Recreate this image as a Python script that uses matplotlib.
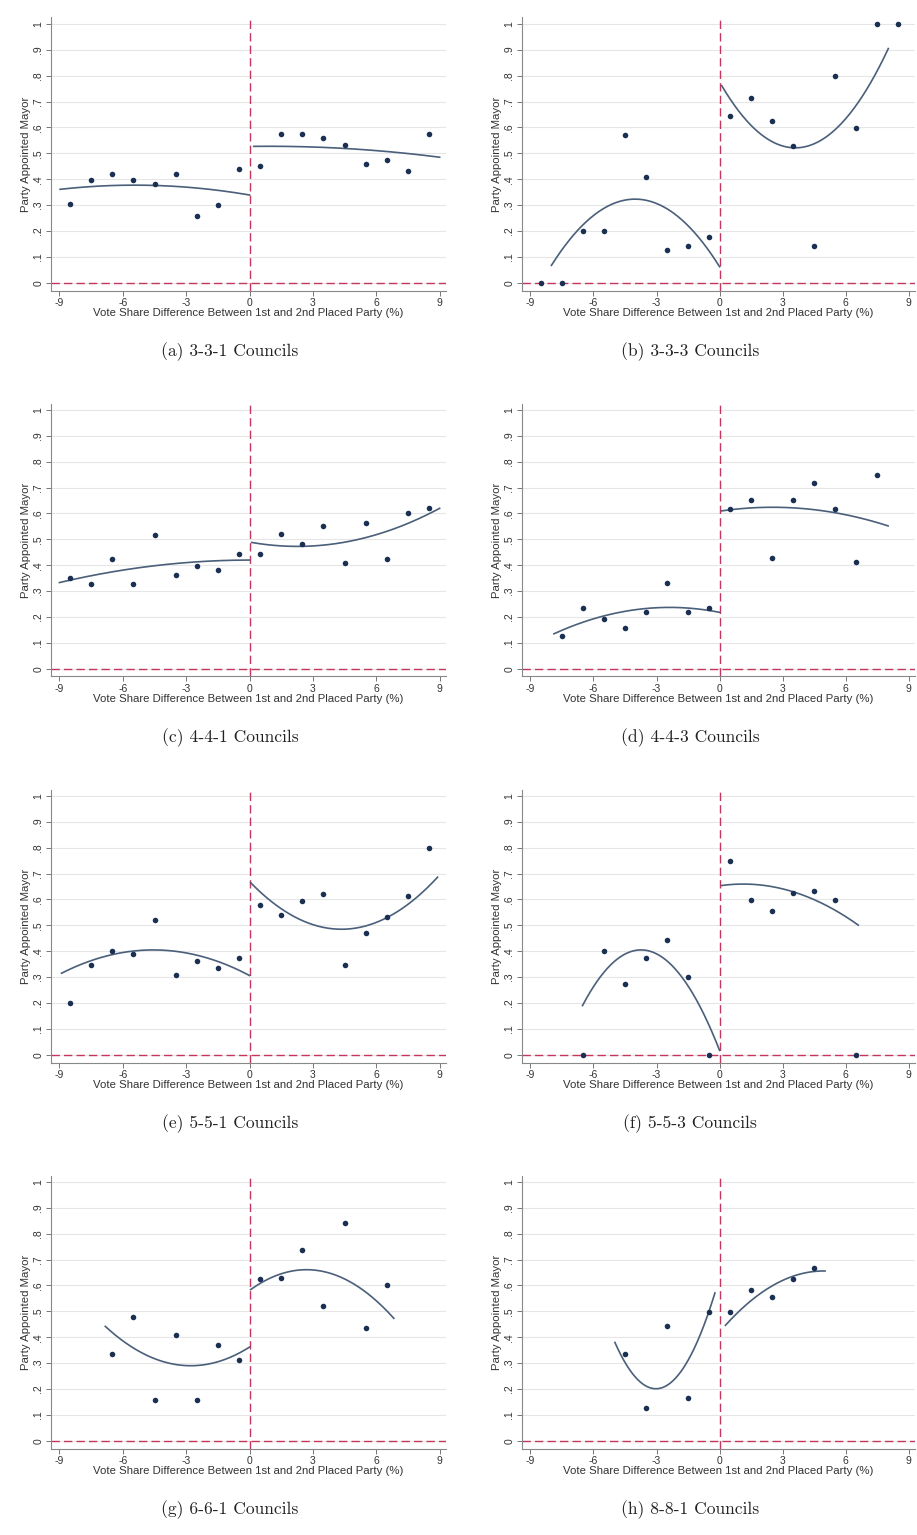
import numpy as np
import matplotlib.pyplot as plt

# bin midpoints (1 point-wide bins of the vote share margin)
x_all = [-8.5, -7.5, -6.5, -5.5, -4.5, -3.5, -2.5, -1.5, -0.5,
         0.5, 1.5, 2.5, 3.5, 4.5, 5.5, 6.5, 7.5, 8.5]

# (a) 3-3-1
a_x = x_all
a_y = [0.304, 0.397, 0.420, 0.396, 0.383, 0.420, 0.258, 0.300, 0.438,
       0.452, 0.573, 0.575, 0.559, 0.532, 0.460, 0.473, 0.433, 0.575]
a_left_x, a_left_y = [-8.97, -4.5, 0.0], [0.361, 0.376, 0.339]
a_right_x, a_right_y = [0.2, 4.5, 9.0], [0.527, 0.519, 0.485]

# (b) 3-3-3
b_x = x_all
b_y = [0.0, 0.0, 0.201, 0.201, 0.571, 0.410, 0.125, 0.142, 0.178,
       0.646, 0.714, 0.625, 0.530, 0.142, 0.800, 0.599, 1.0, 1.0]
b_left_x, b_left_y = [-8.0, -4.1, 0.0], [0.067, 0.323, 0.062]
b_right_x, b_right_y = [0.1, 3.9, 8.03], [0.762, 0.523, 0.905]

# (c) 4-4-1
c_x = x_all
c_y = [0.351, 0.326, 0.426, 0.326, 0.517, 0.362, 0.398, 0.380, 0.445,
       0.445, 0.521, 0.483, 0.552, 0.407, 0.564, 0.426, 0.600, 0.622]
c_left_x, c_left_y = [-9.0, -4.5, 0.0], [0.333, 0.398, 0.420]
c_right_x, c_right_y = [0.1, 4.5, 9.0], [0.488, 0.489, 0.620]

# (d) 4-4-3
d_x = [-7.5, -6.5, -5.5, -4.5, -3.5, -2.5, -1.5, -0.5,
       0.5, 1.5, 2.5, 3.5, 4.5, 5.5, 6.5, 7.5]
d_y = [0.125, 0.234, 0.192, 0.156, 0.219, 0.333, 0.219, 0.234,
       0.616, 0.651, 0.427, 0.651, 0.718, 0.619, 0.411, 0.749]
d_left_x, d_left_y = [-7.88, -2.5, 0.0], [0.135, 0.237, 0.218]
d_right_x, d_right_y = [0.1, 2.5, 8.02], [0.610, 0.624, 0.552]

# (e) 5-5-1
e_x = x_all
e_y = [0.201, 0.345, 0.399, 0.391, 0.520, 0.309, 0.362, 0.335, 0.372,
       0.579, 0.541, 0.595, 0.622, 0.347, 0.470, 0.532, 0.615, 0.799]
e_left_x, e_left_y = [-8.9, -4.5, 0.0], [0.315, 0.405, 0.306]
e_right_x, e_right_y = [0.05, 4.3, 8.9], [0.665, 0.485, 0.686]

# (f) 5-5-3
f_x = [-6.5, -5.5, -4.5, -3.5, -2.5, -1.5, -0.5,
       0.5, 1.5, 2.5, 3.5, 4.5, 5.5, 6.5]
f_y = [0.0, 0.399, 0.272, 0.373, 0.443, 0.301, 0.0,
       0.748, 0.598, 0.555, 0.624, 0.634, 0.598, 0.0]
f_left_x, f_left_y = [-6.52, -3.8, 0.0], [0.190, 0.405, 0.017]
f_right_x, f_right_y = [0.1, 3.0, 6.6], [0.654, 0.641, 0.501]

# (g) 6-6-1
g_x = [-6.5, -5.5, -4.5, -3.5, -2.5, -1.5, -0.5,
       0.5, 1.5, 2.5, 3.5, 4.5, 5.5, 6.5]
g_y = [0.334, 0.478, 0.159, 0.407, 0.159, 0.370, 0.312,
       0.624, 0.629, 0.736, 0.519, 0.841, 0.434, 0.601]
g_left_x, g_left_y = [-6.83, -2.9, 0.0], [0.442, 0.290, 0.362]
g_right_x, g_right_y = [0.05, 2.7, 6.83], [0.584, 0.661, 0.473]

# (h) 8-8-1
h_x = [-4.5, -3.5, -2.5, -1.5, -0.5, 0.5, 1.5, 2.5, 3.5, 4.5]
h_y = [0.334, 0.125, 0.443, 0.165, 0.499, 0.499, 0.582, 0.555, 0.625, 0.666]
h_left_x, h_left_y = [-4.98, -3.0, -0.22], [0.380, 0.201, 0.571]
h_right_x, h_right_y = [0.28, 2.6, 5.02], [0.446, 0.603, 0.656]

captions = ['(a) 3-3-1 Councils', '(b) 3-3-3 Councils', '(c) 4-4-1 Councils',
            '(d) 4-4-3 Councils', '(e) 5-5-1 Councils', '(f) 5-5-3 Councils',
            '(g) 6-6-1 Councils', '(h) 8-8-1 Councils']

xticks = [-9, -6, -3, 0, 3, 6, 9]
xtick_labels = ['-9', '-6', '-3', '0', '3', '6', '9']
yticks = [0, .1, .2, .3, .4, .5, .6, .7, .8, .9, 1]
ytick_labels = ['0', '.1', '.2', '.3', '.4', '.5', '.6', '.7', '.8', '.9', '1']

panels = [
    (a_x, a_y, a_left_x, a_left_y, a_right_x, a_right_y),
    (b_x, b_y, b_left_x, b_left_y, b_right_x, b_right_y),
    (c_x, c_y, c_left_x, c_left_y, c_right_x, c_right_y),
    (d_x, d_y, d_left_x, d_left_y, d_right_x, d_right_y),
    (e_x, e_y, e_left_x, e_left_y, e_right_x, e_right_y),
    (f_x, f_y, f_left_x, f_left_y, f_right_x, f_right_y),
    (g_x, g_y, g_left_x, g_left_y, g_right_x, g_right_y),
    (h_x, h_y, h_left_x, h_left_y, h_right_x, h_right_y),
]

plt.rcParams['font.family'] = ['Liberation Sans', 'DejaVu Sans']

W, H = 917, 1535
fig = plt.figure(figsize=(W / 100, H / 100), dpi=100)

navy = '#1a2f52'
fitcol = '#4a5f7a'
red = '#c4365e'


def qfit(ax, xs, ys):
    coef = np.polyfit(xs, ys, 2)
    xx = np.linspace(xs[0], xs[-1], 200)
    ax.plot(xx, np.polyval(coef, xx), color=fitcol, lw=1.2, zorder=3)


for i, (px, py, lx, ly, rx, ry) in enumerate(panels):
    row, col = i // 2, i % 2
    left = 51 if col == 0 else 522
    width = 395 if col == 0 else 393
    top = 17.5 + 386 * row
    height = 273
    ax = fig.add_axes([left / W, 1 - (top + height) / H, width / W, height / H])

    ax.set_xlim(-9.4, 9.3)
    ax.set_ylim(-0.03, 1.025)
    for y in yticks:
        ax.axhline(y, color='#e6e6e6', lw=0.8, zorder=0)
    ax.axvline(0, color=red, lw=1.0, ls=(0, (6, 3)), zorder=2)
    ax.axhline(0, color=red, lw=1.0, ls=(0, (6, 3)), zorder=2)

    ax.scatter(px, py, s=16, color=navy, zorder=4, linewidths=0)
    qfit(ax, lx, ly)
    qfit(ax, rx, ry)

    ax.set_xticks(xticks)
    ax.set_xticklabels(xtick_labels, fontsize=7.5, color='#333333')
    ax.set_yticks(yticks)
    ax.set_yticklabels(ytick_labels, fontsize=7.5, color='#333333',
                       rotation=90, va='center')
    ax.tick_params(axis='both', length=3.5, width=0.7, color='#777777', pad=2)
    for s in ['top', 'right']:
        ax.spines[s].set_visible(False)
    for s in ['left', 'bottom']:
        ax.spines[s].set_color('#888888')
        ax.spines[s].set_linewidth(0.8)

    ax.set_xlabel('Vote Share Difference Between 1st and 2nd Placed Party (%)',
                  fontsize=8.2, color='#333333', labelpad=0)
    ax.set_ylabel('Party Appointed Mayor', fontsize=8.2, color='#333333',
                  labelpad=1.5)

    cx = (230 if col == 0 else 690) / W
    cy = 1 - (352 + 386 * row) / H
    fig.text(cx, cy, captions[i], family='cmr10', fontsize=12.6,
             ha='center', va='center', color='#222222')

fig.savefig('out.png', dpi=100, facecolor='white')
